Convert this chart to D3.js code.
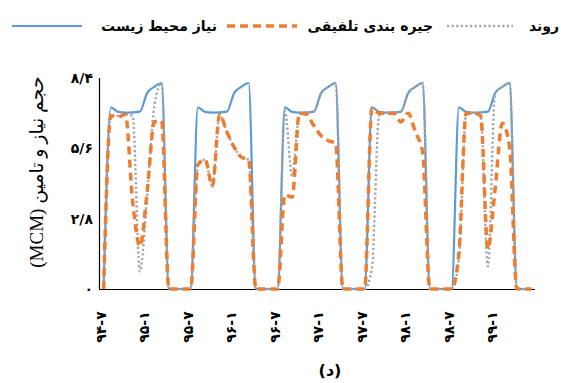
<!DOCTYPE html>
<html>
<head>
<meta charset="utf-8">
<script src="https://cdn.jsdelivr.net/npm/d3@7"></script>
<style>
    body { margin: 0; background: #fff; }
    svg { display: block; }
    .fa { font-family: "DejaVu Sans", sans-serif; font-weight: bold; fill: #000; }
</style>
</head>
<body>
<div id="vis"></div>
<script>
// monthly categories, 94-7 .. 99-6
const months = [
    "۹۴-۷", "۹۴-۸", "۹۴-۹", "۹۴-۱۰", "۹۴-۱۱", "۹۴-۱۲",
    "۹۵-۱", "۹۵-۲", "۹۵-۳", "۹۵-۴", "۹۵-۵", "۹۵-۶",
    "۹۵-۷", "۹۵-۸", "۹۵-۹", "۹۵-۱۰", "۹۵-۱۱", "۹۵-۱۲",
    "۹۶-۱", "۹۶-۲", "۹۶-۳", "۹۶-۴", "۹۶-۵", "۹۶-۶",
    "۹۶-۷", "۹۶-۸", "۹۶-۹", "۹۶-۱۰", "۹۶-۱۱", "۹۶-۱۲",
    "۹۷-۱", "۹۷-۲", "۹۷-۳", "۹۷-۴", "۹۷-۵", "۹۷-۶",
    "۹۷-۷", "۹۷-۸", "۹۷-۹", "۹۷-۱۰", "۹۷-۱۱", "۹۷-۱۲",
    "۹۸-۱", "۹۸-۲", "۹۸-۳", "۹۸-۴", "۹۸-۵", "۹۸-۶",
    "۹۸-۷", "۹۸-۸", "۹۸-۹", "۹۸-۱۰", "۹۸-۱۱", "۹۸-۱۲",
    "۹۹-۱", "۹۹-۲", "۹۹-۳", "۹۹-۴", "۹۹-۵", "۹۹-۶"
];

const tickMonths = ["۹۴-۷", "۹۵-۱", "۹۵-۷", "۹۶-۱", "۹۶-۷", "۹۷-۱", "۹۷-۷", "۹۸-۱", "۹۸-۷", "۹۹-۱"];

const yTicks = [0, 2.8, 5.6, 8.4];
const yTickLabels = ["۰", "۲/۸", "۵/۶", "۸/۴"];

// نیاز محیط زیست
const envNeed = [
    0, 7.23, 7.05, 7.02, 7.03, 7.06, 7.8, 8.05, 8.2, 0, 0, 0,
    0, 7.23, 7.05, 7.02, 7.03, 7.06, 7.8, 8.05, 8.2, 0, 0, 0,
    0, 7.23, 7.05, 7.02, 7.03, 7.06, 7.8, 8.05, 8.2, 0, 0, 0,
    0, 7.23, 7.05, 7.02, 7.03, 7.06, 7.8, 8.05, 8.2, 0, 0, 0,
    0, 7.23, 7.05, 7.02, 7.03, 7.06, 7.8, 8.05, 8.2, 0, 0, 0
];

// جیره بندی تلفیقی
const rationing = [
    0, 6.9, 6.85, 6.95, 3.5, 1.7, 3.85, 6.65, 6.7, 0, 0, 0,
    0, 4.95, 5.15, 4.1, 6.95, 6.25, 5.65, 5.25, 5.15, 0, 0, 0,
    0, 3.75, 3.65, 7.0, 6.95, 6.5, 6.1, 5.9, 5.8, 0, 0, 0,
    0, 7.2, 7.0, 7.0, 7.0, 6.65, 7.0, 6.25, 5.45, 0, 0, 0,
    0, 1.4, 7.0, 7.0, 6.9, 1.6, 4.0, 6.6, 5.65, 0, 0, 0
];

// روند
const trend = [
    0, 6.9, 6.9, 6.95, 6.9, 0.7, 3.7, 7.3, 8.2, 0, 0, 0,
    0, 4.95, 5.15, 4.1, 6.95, 6.25, 5.65, 5.25, 5.15, 0, 0, 0,
    0, 7.1, 4.5, 6.95, 7.02, 7.06, 7.8, 8.05, 8.2, 0, 0, 0,
    0, 0.8, 6.9, 7.0, 7.02, 7.06, 7.8, 8.05, 8.2, 0, 0, 0,
    0, 1.2, 6.95, 7.0, 6.9, 0.9, 7.8, 8.05, 8.2, 0, 0, 0
];

let width = 561,
    height = 383;

let svg = d3.select("#vis")
    .append("svg")
    .attr("width", width)
    .attr("height", height);

////////// scales //////////

let x = d3.scalePoint()
    .domain(months)
    .range([100, 535])
    .padding(0.5);

let y = d3.scaleLinear()
    .domain([0, 8.4])
    .range([289, 78]);

////////// axes //////////

svg.append("line")
    .attr("x1", 99.5).attr("x2", 99.5)
    .attr("y1", y(8.4)).attr("y2", y(0))
    .attr("stroke", "#000").attr("stroke-width", 1.2);

svg.append("line")
    .attr("x1", 99).attr("x2", 535)
    .attr("y1", y(0) + 0.5).attr("y2", y(0) + 0.5)
    .attr("stroke", "#000").attr("stroke-width", 1.2);

svg.append("g")
    .selectAll("text")
    .data(yTicks)
    .enter()
    .append("text")
    .attr("class", "fa")
    .attr("x", 93)
    .attr("y", d => y(d))
    .attr("dy", "0.35em")
    .attr("text-anchor", "end")
    .style("font-size", "14px")
    .text((d, i) => yTickLabels[i]);

// rotated month labels, centred under each half-year
svg.append("g")
    .selectAll("text")
    .data(tickMonths)
    .enter()
    .append("text")
    .attr("class", "fa")
    .attr("transform", d => "translate(" + (x(d) - 3) + ",327) rotate(-90)")
    .attr("dy", "0.35em")
    .attr("text-anchor", "middle")
    .style("font-size", "14px")
    .text(d => d);

svg.append("text")
    .attr("transform", "translate(36,172) rotate(-90)")
    .attr("text-anchor", "middle")
    .attr("dy", "0.35em")
    .style("font-family", "'Liberation Serif', 'DejaVu Sans', serif")
    .style("font-size", "19px")
    .style("direction", "rtl")
    .style("unicode-bidi", "embed")
    .text("حجم نیاز و تامین (MCM)");

svg.append("text")
    .attr("class", "fa")
    .attr("x", 330)
    .attr("y", 376)
    .attr("text-anchor", "middle")
    .style("font-size", "16px")
    .style("direction", "rtl")
    .style("unicode-bidi", "embed")
    .text("(د)");

////////// lines //////////

let line = d3.line()
    .x((d, i) => x(months[i]))
    .y(d => y(d))
    .curve(d3.curveMonotoneX);

const series = [
    {name: "نیاز محیط زیست", values: envNeed, color: "#5B9BD5", width: 2.2, dash: null},
    {name: "روند", values: trend, color: "#A5A5A5", width: 2.4, dash: "2.2,2.4"},
    {name: "جیره بندی تلفیقی", values: rationing, color: "#ED7D31", width: 3.5, dash: "8,5"}
];

svg.append("g")
    .selectAll("path")
    .data(series)
    .enter()
    .append("path")
    .attr("d", d => line(d.values))
    .attr("fill", "none")
    .attr("stroke", d => d.color)
    .attr("stroke-width", d => d.width)
    .attr("stroke-dasharray", d => d.dash)
    .attr("stroke-linejoin", "round");

////////// legend //////////

const legendItems = [
    {s: series[0], x1: 12, x2: 82, tx: 217},
    {s: series[2], x1: 227, x2: 297, tx: 433},
    {s: series[1], x1: 447, x2: 513, tx: 559}
];

let legend = svg.append("g").attr("class", "legend");

legend.selectAll("line")
    .data(legendItems)
    .enter()
    .append("line")
    .attr("x1", d => d.x1)
    .attr("x2", d => d.x2)
    .attr("y1", 26)
    .attr("y2", 26)
    .attr("stroke", d => d.s.color)
    .attr("stroke-width", d => d.s.width)
    .attr("stroke-dasharray", d => d.s.dash);

legend.selectAll("text")
    .data(legendItems)
    .enter()
    .append("text")
    .attr("class", "fa")
    .attr("x", d => d.tx)
    .attr("y", 26)
    .attr("dy", "0.35em")
    .attr("text-anchor", "end")
    .style("font-size", "14px")
    .text(d => d.s.name);
</script>
</body>
</html>
